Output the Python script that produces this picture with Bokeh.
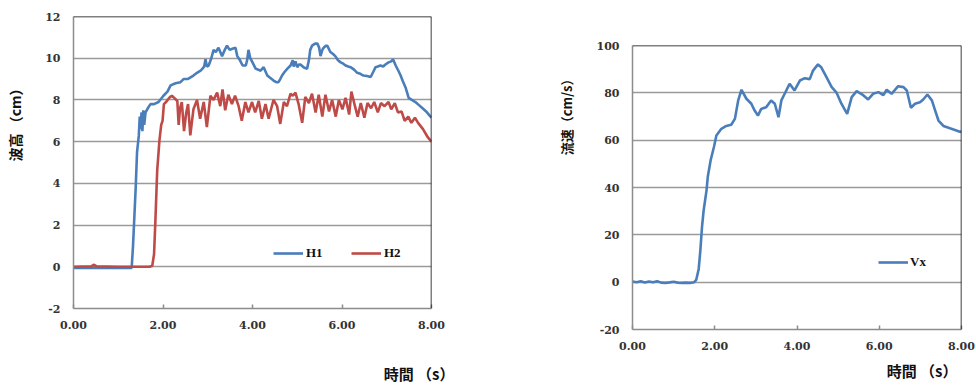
from bokeh.plotting import figure
from bokeh.models import (Range1d, FixedTicker, NumeralTickFormatter, Title, Legend,
                          LegendItem, Span)
from bokeh.layouts import row, column
from bokeh.embed import file_html
from bokeh.resources import INLINE

# ---------------- data ----------------
t1 = [0.00, 0.50, 1.00, 1.30, 1.33, 1.36, 1.39, 1.42, 1.46, 1.48, 1.50, 1.52, 1.54, 1.56, 1.58,
      1.61, 1.66, 1.72, 1.80, 1.90, 2.01, 2.10, 2.17, 2.28, 2.39, 2.46, 2.55, 2.68, 2.76, 2.84,
      2.92, 2.95, 2.98, 3.02, 3.08, 3.13, 3.18, 3.24, 3.28, 3.32, 3.38, 3.43, 3.49, 3.55, 3.62,
      3.66, 3.72, 3.78, 3.85, 3.88, 3.91, 3.95, 4.00, 4.07, 4.13, 4.18, 4.25, 4.33, 4.40, 4.47,
      4.53, 4.58, 4.62, 4.66, 4.72, 4.78, 4.85, 4.90, 4.92, 4.96, 5.00, 5.04, 5.07, 5.15, 5.22,
      5.26, 5.29, 5.33, 5.40, 5.45, 5.49, 5.52, 5.56, 5.59, 5.64, 5.67, 5.74, 5.80, 5.85, 5.91,
      5.97, 6.02, 6.08, 6.14, 6.19, 6.27, 6.34, 6.41, 6.48, 6.56, 6.64, 6.70, 6.75, 6.80, 6.86,
      6.92, 6.97, 7.04, 7.10, 7.14, 7.20, 7.26, 7.31, 7.36, 7.42, 7.49, 7.56, 7.64, 7.72, 7.80,
      7.88, 7.94, 8.00]
h1 = [-0.05, -0.05, -0.05, -0.05, 1.0, 2.4, 3.8, 5.5, 6.3, 7.2, 6.6, 7.4, 6.5, 7.5, 6.8,
      7.4, 7.6, 7.8, 7.8, 7.9, 8.2, 8.4, 8.7, 8.8, 8.85, 9.0, 9.0, 9.17, 9.3, 9.4,
      9.6, 9.95, 9.6, 9.65, 10.0, 10.4, 10.3, 10.5, 10.3, 10.1, 10.4, 10.6, 10.4, 10.45, 10.5,
      10.1, 9.9, 9.65, 9.65, 9.9, 10.4, 10.0, 9.8, 9.5, 9.45, 9.4, 9.57, 9.17, 9.05, 8.93,
      8.85, 8.85, 9.0, 9.17, 9.35, 9.5, 9.65, 9.9, 9.6, 9.85, 9.57, 9.7, 9.7, 9.55, 9.5,
      9.9, 10.4, 10.6, 10.7, 10.7, 10.5, 10.1, 10.4, 10.5, 10.6, 10.6, 10.3, 10.2, 10.1, 9.9,
      9.8, 9.75, 9.65, 9.6, 9.57, 9.45, 9.3, 9.25, 9.17, 9.15, 9.1, 9.35, 9.57, 9.6, 9.65,
      9.6, 9.7, 9.8, 9.85, 9.95, 9.65, 9.4, 9.17, 8.9, 8.6, 8.1, 8.0, 7.9, 7.75, 7.6,
      7.45, 7.3, 7.15]

t2 = [0.00, 0.40, 0.45, 0.52, 1.00, 1.50, 1.70, 1.76, 1.80, 1.83, 1.87, 1.92, 1.96, 1.99, 2.02,
      2.07, 2.12, 2.16, 2.20, 2.25, 2.32, 2.35, 2.38, 2.42, 2.47, 2.52, 2.56, 2.61, 2.68, 2.76,
      2.83, 2.91, 2.98, 3.06, 3.13, 3.21, 3.28, 3.33, 3.39, 3.46, 3.54, 3.61, 3.69, 3.76, 3.84,
      3.91, 3.99, 4.06, 4.14, 4.21, 4.29, 4.36, 4.42, 4.47, 4.55, 4.62, 4.70, 4.77, 4.85, 4.90,
      4.96, 5.03, 5.11, 5.18, 5.26, 5.33, 5.41, 5.48, 5.56, 5.63, 5.71, 5.78, 5.86, 5.93, 6.01,
      6.08, 6.16, 6.21, 6.29, 6.35, 6.42, 6.50, 6.57, 6.65, 6.72, 6.80, 6.87, 6.95, 7.04, 7.10,
      7.18, 7.25, 7.33, 7.40, 7.48, 7.55, 7.63, 7.70, 7.81, 7.92, 8.00]
h2 = [0.0, 0.02, 0.1, 0.02, 0.0, 0.0, 0.0, 0.05, 0.6, 2.2, 4.6, 6.05, 6.8, 7.0, 7.8,
      7.9, 8.05, 8.15, 8.2, 8.1, 7.95, 6.8, 7.6, 7.9, 6.5, 7.4, 7.8, 6.3, 7.55, 8.0,
      7.1, 7.9, 6.7, 8.2, 8.0, 8.35, 7.7, 8.5, 7.5, 8.25, 7.8, 8.2, 7.7, 7.0, 7.9,
      7.4, 7.9, 7.4, 7.95, 7.1, 7.8, 7.1, 7.6, 8.0, 7.7, 6.85, 7.9, 7.7, 8.3, 8.2,
      8.35, 7.8, 6.9, 8.15, 7.85, 8.3, 7.4, 8.25, 7.2, 8.25, 7.45, 8.0, 7.2, 8.0, 7.55,
      8.1, 7.3, 8.4, 7.7, 7.2, 7.85, 7.15, 7.85, 7.6, 7.9, 7.4, 7.85, 7.7, 7.9, 7.55,
      7.85, 7.4, 7.45, 7.0, 7.2, 6.9, 7.15, 6.9, 6.6, 6.2, 6.0]

t3 = [0.00, 0.10, 0.20, 0.30, 0.40, 0.50, 0.60, 0.70, 0.80, 0.90, 1.00, 1.10, 1.20, 1.30, 1.40,
      1.50, 1.55, 1.61, 1.65, 1.69, 1.73, 1.80, 1.83, 1.90, 1.98, 2.04, 2.16, 2.28, 2.40, 2.49,
      2.57, 2.65, 2.77, 2.89, 2.97, 3.05, 3.13, 3.25, 3.37, 3.46, 3.55, 3.62, 3.70, 3.82, 3.94,
      4.07, 4.19, 4.31, 4.39, 4.51, 4.59, 4.72, 4.84, 4.96, 5.08, 5.22, 5.33, 5.45, 5.61, 5.73,
      5.85, 5.98, 6.10, 6.18, 6.30, 6.46, 6.59, 6.67, 6.77, 6.87, 6.99, 7.07, 7.17, 7.28, 7.36,
      7.44, 7.56, 7.72, 7.84, 7.96, 8.00]
vx = [0.3, 0.0, 0.4, -0.1, 0.3, 0.0, 0.4, -0.2, -0.3, -0.1, 0.2, -0.2, -0.3, -0.2, -0.3,
      0.0, 1.0, 5.6, 13.4, 23.3, 30.3, 38.8, 44.4, 51.5, 57.1, 62.0, 64.8, 66.0, 66.5, 69.0,
      76.8, 81.3, 77.5, 75.4, 72.5, 70.4, 73.2, 73.9, 76.8, 75.4, 69.7, 76.8, 79.6, 83.8, 81.0,
      85.2, 86.2, 85.8, 89.4, 92.0, 90.8, 86.5, 82.5, 80.1, 75.4, 71.1, 78.2, 80.7, 79.0, 77.2,
      79.6, 80.3, 79.0, 81.3, 79.6, 82.8, 82.4, 81.0, 73.7, 75.4, 76.0, 77.2, 79.3, 76.8, 72.5,
      68.3, 66.0, 65.0, 64.3, 63.6, 63.5]

x_ticks = [0, 2, 4, 6, 8]
y1_ticks = [-2, 0, 2, 4, 6, 8, 10, 12]
y2_ticks = [-20, 0, 20, 40, 60, 80, 100]

BLUE = "#4A7EBB"
RED = "#BE4B48"
TICK_FONT = "DejaVu Serif"
CJK = "Noto Sans CJK JP"


def style(p, yticks):
    p.outline_line_color = None
    p.background_fill_color = "white"
    p.border_fill_color = "white"
    p.xgrid.visible = False
    p.ygrid.grid_line_color = "#9a9a9a"
    p.ygrid.grid_line_width = 1.3
    p.ygrid.ticker = FixedTicker(ticks=yticks)
    p.xaxis.ticker = FixedTicker(ticks=x_ticks)
    p.yaxis.ticker = FixedTicker(ticks=yticks)
    p.xaxis.formatter = NumeralTickFormatter(format="0.00")
    p.yaxis.formatter = NumeralTickFormatter(format="0")
    for ax in (p.xaxis[0], p.yaxis[0]):
        ax.axis_line_color = "#8c8c8c"
        ax.axis_line_width = 1.5
        ax.minor_tick_line_color = None
        ax.major_label_text_font = TICK_FONT
        ax.major_label_text_font_size = "11px"
        ax.major_label_text_font_style = "bold"
        ax.major_label_text_color = "#333333"
        ax.major_label_standoff = 12
    p.xaxis.major_tick_in = 4
    p.xaxis.major_tick_out = 0
    p.xaxis.major_tick_line_color = "#8c8c8c"
    p.xaxis.major_tick_line_width = 1.5
    p.yaxis.major_tick_in = 0
    p.yaxis.major_tick_out = 0
    p.yaxis.major_label_standoff = 13


def frame_edges(p, xr, yr):
    p.add_layout(Span(location=yr[1], dimension="width", line_color="black", line_width=1.5))
    p.add_layout(Span(location=xr[1], dimension="height", line_color="black", line_width=1.5))


def spacer(p, side, size):
    p.add_layout(Title(text=" ", text_font_size="1px", standoff=size), side)


def titles(p, ytext, ysize, yoffset, ygap, xoffset, xgap):
    spacer(p, "left", ygap)
    p.add_layout(Title(text=ytext, align="right", offset=yoffset, standoff=0,
                       text_font=CJK, text_font_size=ysize, text_font_style="bold",
                       text_color="#111111"), "left")
    spacer(p, "below", xgap)
    p.add_layout(Title(text="時間 （s）", align="right", offset=xoffset, standoff=0,
                       text_font=CJK, text_font_size="15px", text_font_style="bold",
                       text_color="#111111"), "below")


# ---------------- chart 1 ----------------
X1 = (0, 8)
Y1 = (-2, 12)
p1 = figure(width=500, height=385, x_range=Range1d(*X1), y_range=Range1d(*Y1),
            output_backend="svg", toolbar_location=None,
            min_border_left=73, min_border_right=69, min_border_top=16, min_border_bottom=77)
style(p1, y1_ticks)
frame_edges(p1, X1, Y1)
r_h1 = p1.line(t1, h1, line_color=BLUE, line_width=2.6)
r_h2 = p1.line(t2, h2, line_color=RED, line_width=2.6)
lg1 = Legend(items=[LegendItem(label="H1", renderers=[r_h1]),
                    LegendItem(label="H2", renderers=[r_h2])],
             orientation="horizontal", location=(200, 47),
             border_line_color=None, background_fill_alpha=0,
             label_text_font="Liberation Serif", label_text_font_size="13px",
             label_text_font_style="bold", label_text_color="#111111",
             glyph_width=30, glyph_height=14, label_standoff=3, spacing=25,
             padding=0, margin=0, label_height=14)
p1.add_layout(lg1)
titles(p1, "波高 （cm）", "14px", 65, 15, -23, 26)

# ---------------- chart 2 ----------------
X2 = (0, 8)
Y2 = (-20, 100)
p2 = figure(width=475, height=385, x_range=Range1d(*X2), y_range=Range1d(*Y2),
            output_backend="svg", toolbar_location=None,
            min_border_left=132, min_border_right=14, min_border_top=45, min_border_bottom=56)
style(p2, y2_ticks)
frame_edges(p2, X2, Y2)
r_vx = p2.line(t3, vx, line_color=BLUE, line_width=2.6)
lg2 = Legend(items=[LegendItem(label="Vx", renderers=[r_vx])],
             orientation="horizontal", location=(246, 59),
             border_line_color=None, background_fill_alpha=0,
             label_text_font="Liberation Serif", label_text_font_size="13px",
             label_text_font_style="bold", label_text_color="#111111",
             glyph_width=30, glyph_height=14, label_standoff=2,
             padding=0, margin=0, label_height=14)
p2.add_layout(lg2)
titles(p2, "流速（cm/s）", "13px", 27, 15, 4, 2)

layout = row(column(p1), column(p2))
open("out.html", "w").write(file_html(layout, INLINE))
